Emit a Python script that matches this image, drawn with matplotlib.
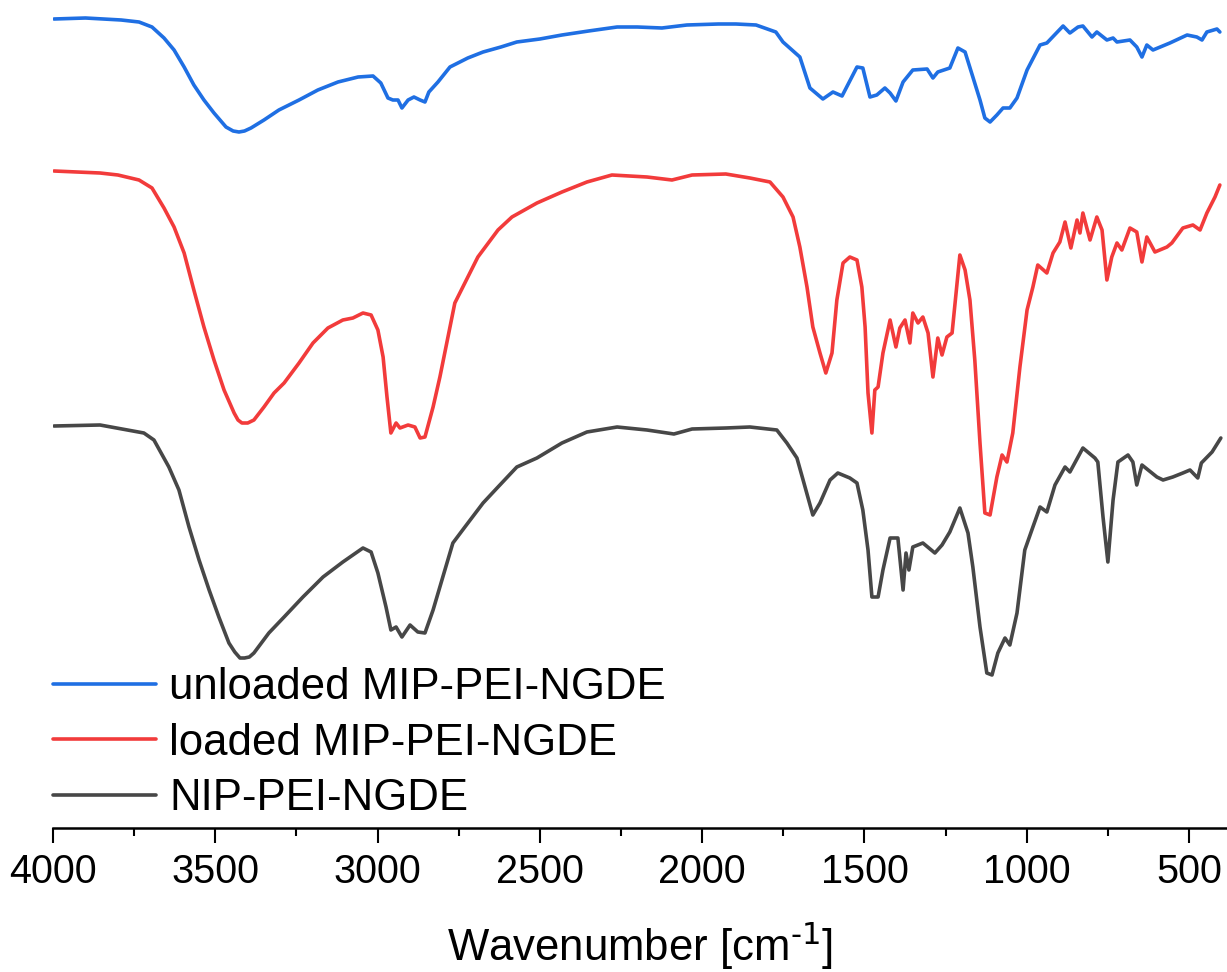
"""
FTIR spectra of unloaded / loaded MIP-PEI-NGDE and NIP-PEI-NGDE (stacked, arbitrary units).
"""

import matplotlib.pyplot as plt
from matplotlib.ticker import MultipleLocator

plt.rcParams["font.family"] = ["Liberation Sans", "DejaVu Sans"]

# unloaded MIP-PEI-NGDE
unloaded_wn = [3997, 3900, 3790, 3735, 3695, 3658, 3627, 3596, 3566, 3535, 3504, 3467, 3445,
               3427, 3410, 3390, 3350, 3304, 3242, 3184, 3122, 3060, 3014, 2990, 2968, 2953,
               2937, 2925, 2906, 2888, 2869, 2854, 2842, 2814, 2777, 2722, 2675, 2620, 2571,
               2500, 2432, 2350, 2262, 2200, 2124, 2047, 1950, 1896, 1834, 1773, 1751, 1699,
               1668, 1628, 1597, 1569, 1523, 1505, 1483, 1462, 1437, 1421, 1403, 1381, 1351,
               1307, 1289, 1274, 1237, 1212, 1190, 1166, 1144, 1129, 1113, 1092, 1073, 1052,
               1030, 999, 959, 938, 888, 867, 842, 827, 799, 784, 753, 734, 722, 682, 661,
               645, 630, 611, 559, 506, 476, 460, 445, 414, 405]
unloaded_t = [809, 810, 808, 806, 801, 790, 778, 761, 743, 728, 715, 701, 697,
              696, 697, 700, 708, 718, 728, 738, 746, 751, 752, 745, 730, 728,
              728, 720, 728, 731, 728, 726, 736, 746, 761, 770, 776, 781, 786,
              789, 793, 797, 801, 801, 800, 803, 804, 804, 803, 796, 786, 771,
              740, 729, 736, 732, 761, 760, 731, 733, 740, 735, 727, 746, 758,
              759, 750, 756, 760, 780, 776, 751, 728, 710, 706, 713, 720, 720,
              730, 758, 783, 785, 802, 795, 801, 802, 791, 796, 788, 790, 786, 788, 781,
              771, 783, 778, 785, 793, 791, 788, 796, 799, 796]

# loaded MIP-PEI-NGDE
loaded_wn = [3997, 3855, 3800, 3735, 3695, 3658, 3627, 3596, 3566, 3535, 3504, 3473, 3442,
             3430, 3418, 3400, 3381, 3350, 3319, 3288, 3242, 3199, 3153, 3107, 3076, 3045,
             3020, 2999, 2983, 2971, 2959, 2943, 2931, 2906, 2885, 2869, 2854, 2829, 2808,
             2783, 2762, 2731, 2691, 2629, 2586, 2509, 2432, 2355, 2278, 2170, 2093, 2031,
             1927, 1853, 1791, 1751, 1720, 1699, 1677, 1659, 1637, 1619, 1600, 1585, 1566,
             1545, 1523, 1508, 1498, 1489, 1477, 1468, 1458, 1443, 1421, 1403, 1391, 1375,
             1360, 1351, 1335, 1320, 1304, 1289, 1274, 1261, 1246, 1230, 1206, 1190, 1175,
             1160, 1144, 1129, 1113, 1092, 1076, 1061, 1043, 1021, 999, 981, 966, 938, 919,
             898, 882, 864, 845, 836, 827, 805, 784, 768, 753, 738, 722, 707, 682, 661,
             645, 630, 605, 568, 553, 519, 488, 466, 445, 420, 405]
loaded_t = [657, 655, 653, 648, 640, 620, 601, 575, 538, 501, 468, 438, 415,
            408, 405, 405, 408, 421, 435, 445, 465, 485, 500, 508, 510, 515,
            513, 498, 471, 431, 395, 405, 400, 403, 401, 390, 391, 421, 451,
            491, 525, 545, 571, 598, 611, 625, 636, 646, 653, 651, 648, 653,
            654, 650, 646, 631, 611, 581, 541, 501, 475, 455, 475, 528, 565,
            571, 568, 541, 501, 435, 395, 438, 441, 475, 508, 481, 500, 508,
            485, 515, 505, 511, 495, 451, 490, 473, 491, 495, 573, 558, 528,
            468, 385, 315, 313, 351, 373, 366, 395, 461, 518, 541, 563, 555, 575,
            586, 606, 580, 608, 595, 615, 588, 611, 598, 548, 571, 585, 578, 600, 596,
            566, 591, 576, 581, 585, 600, 603, 598, 615, 631, 643]

# NIP-PEI-NGDE
nip_wn = [3997, 3855, 3720, 3689, 3643, 3612, 3581, 3550, 3519, 3489, 3458, 3440, 3424,
          3410, 3395, 3381, 3335, 3288, 3230, 3168, 3107, 3045, 3020, 2999, 2974, 2959,
          2943, 2925, 2900, 2876, 2854, 2829, 2799, 2768, 2731, 2675, 2629, 2571, 2509,
          2432, 2355, 2262, 2170, 2087, 2031, 1927, 1853, 1770, 1739, 1708, 1689, 1659,
          1637, 1606, 1582, 1545, 1523, 1505, 1489, 1477, 1458, 1443, 1421, 1397, 1381,
          1372, 1363, 1351, 1320, 1283, 1261, 1237, 1206, 1181, 1166, 1144, 1123, 1107,
          1089, 1067, 1052, 1030, 1006, 981, 959, 938, 913, 882, 867, 827, 790, 781, 765,
          750, 734, 719, 688, 673, 661, 645, 599, 580, 550, 519, 497, 473, 462, 429, 402]
nip_t = [402, 403, 395, 388, 361, 338, 301, 268, 238, 211, 185, 176, 170,
         170, 171, 175, 195, 211, 231, 251, 266, 280, 276, 255, 221, 198,
         201, 191, 203, 196, 195, 218, 251, 285, 301, 325, 341, 361, 370,
         385, 396, 401, 398, 394, 399, 400, 401, 398, 385, 370, 348, 313,
         325, 348, 355, 350, 345, 318, 278, 231, 231, 258, 290, 290, 238,
         275, 258, 281, 285, 275, 283, 296, 320, 295, 261, 201, 155, 153,
         175, 190, 183, 215, 278, 301, 321, 316, 343, 361, 356, 380, 370, 366, 311,
         266, 328, 366, 373, 366, 343, 363, 351, 348, 351, 355, 358, 350, 365, 376, 390]

labels = ["unloaded MIP-PEI-NGDE", "loaded MIP-PEI-NGDE", "NIP-PEI-NGDE"]
colors = ["#1f6fe3", "#f23b3b", "#474747"]

fig = plt.figure(figsize=(12.27, 9.72), dpi=100)
ax = fig.add_axes([53 / 1227, 144 / 972, 1174 / 1227, 828 / 972])

for wn, t, lab, col in zip([unloaded_wn, loaded_wn, nip_wn],
                           [unloaded_t, loaded_t, nip_t], labels, colors):
    ax.plot(wn, t, color=col, lw=2.6, label=lab,
            solid_joinstyle="round", solid_capstyle="round")

ax.set_xlim(4000, 383)
ax.set_ylim(0, 828)
for side in ("left", "right", "top"):
    ax.spines[side].set_visible(False)
ax.spines["bottom"].set_linewidth(1.8)
ax.set_yticks([])
ax.xaxis.set_major_locator(MultipleLocator(500))
ax.xaxis.set_minor_locator(MultipleLocator(250))
ax.tick_params(axis="x", which="major", length=11, width=1.5, labelsize=28.5, pad=7)
ax.tick_params(axis="x", which="minor", length=6, width=1.5)
ax.set_xlabel(r"Wavenumber [cm$^{\text{-1}}$]", fontsize=31.5, labelpad=20)

ax.legend(loc="center left", bbox_to_anchor=(0, (828 - 743) / 828), frameon=False,
          fontsize=31.5, handlelength=2.35, handletextpad=0.3, labelspacing=0.33,
          borderpad=0, borderaxespad=0)

fig.savefig("out.png", dpi=100)
